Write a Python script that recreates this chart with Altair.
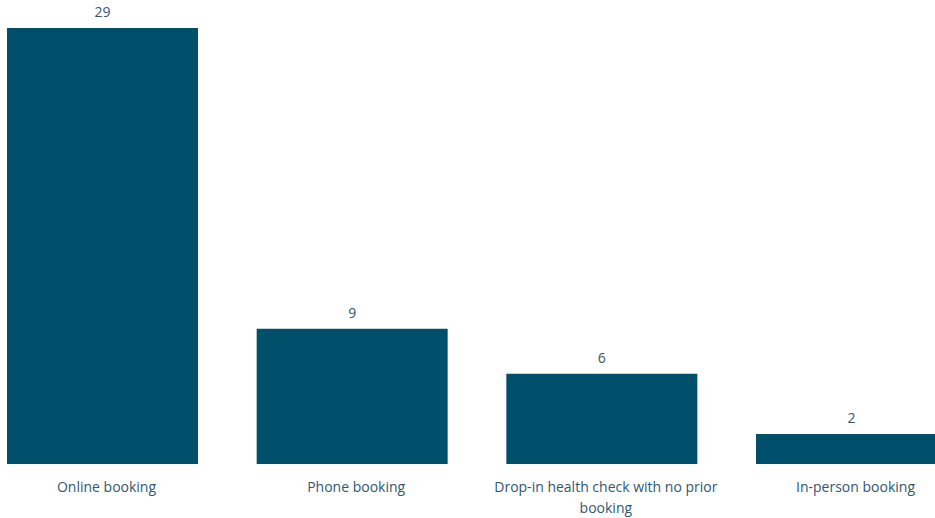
import altair as alt
import pandas as pd

categories = ["Online booking", "Phone booking", "Drop-in health check with no prior booking", "In-person booking"]
counts = [29, 9, 6, 2]

df = pd.DataFrame({"method": categories, "count": counts})

FONT = "Open Sans"
BAR = "#01506b"
TXT = "#2f5870"

x = alt.X(
    "method:N",
    sort=categories,
    scale=alt.Scale(range=[7, 947], paddingInner=0.235, paddingOuter=0),
    axis=alt.Axis(
        title=None,
        domain=False,
        ticks=False,
        grid=False,
        labelAngle=0,
        labelFont=FONT,
        labelFontSize=14,
        labelColor=TXT,
        labelPadding=16,
        labelOffset=4,
        labelLineHeight=21,
        labelLimit=400,
        labelExpr="length(datum.label) > 30 ? ['Drop-in health check with no prior', 'booking'] : datum.label",
    ),
)
y = alt.Y("count:Q", scale=alt.Scale(domain=[0, 29], nice=False, zero=True), axis=None)

bars = alt.Chart(df).mark_bar(color=BAR, clip=True).encode(x=x, y=y)
labels = alt.Chart(df).mark_text(
    dy=-15, font=FONT, fontSize=14, color=TXT, baseline="middle", clip=False
).encode(x=x, y=y, text="count:Q")

chart = (
    alt.layer(bars, labels)
    .properties(width=935, height=436, padding={"top": 28, "left": 0, "right": 0, "bottom": 54},
                autosize=alt.AutoSizeParams(type="none"),
                view=alt.ViewBackground(stroke="transparent", strokeWidth=0))
    .configure_view(stroke="transparent", strokeWidth=0)
    .configure_axis(grid=False, domain=False)
    .configure(background="white")
)

chart.save("out.html", embed_options={"renderer": "svg", "actions": False})
